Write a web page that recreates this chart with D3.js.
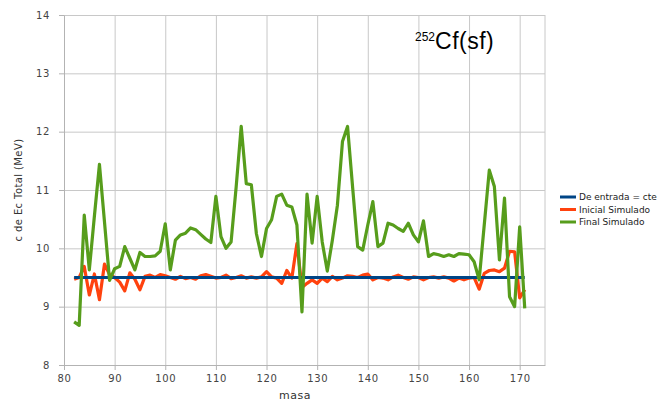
<!DOCTYPE html>
<html>
<head>
<meta charset="utf-8">
<script src="https://cdn.jsdelivr.net/npm/d3@7"></script>
<style>
  body { margin: 0; background: #fff; }
  svg { display: block; font-family: "DejaVu Sans", sans-serif; }
</style>
</head>
<body>
<div id="chart"></div>
<script>
// masses (x) and the three series
const masa = [82, 83, 84, 85, 86, 87, 88, 89, 90, 91, 92, 93, 94, 95, 96, 97, 98, 99,
    100, 101, 102, 103, 104, 105, 106, 107, 108, 109, 110, 111, 112, 113, 114, 115, 116, 117, 118, 119,
    120, 121, 122, 123, 124, 125, 126, 127, 128, 129, 130, 131, 132, 133, 134, 135, 136, 137, 138, 139,
    140, 141, 142, 143, 144, 145, 146, 147, 148, 149, 150, 151, 152, 153, 154, 155, 156, 157, 158, 159,
    160, 161, 162, 163, 164, 165, 166, 167, 168, 169, 170, 171];

const deEntrada = [9.5, 9.5, 9.5, 9.5, 9.5, 9.5, 9.5, 9.5, 9.5, 9.5, 9.5, 9.5, 9.5, 9.5, 9.5, 9.5, 9.5, 9.5,
    9.5, 9.5, 9.5, 9.5, 9.5, 9.5, 9.5, 9.5, 9.5, 9.5, 9.5, 9.5, 9.5, 9.5, 9.5, 9.5, 9.5, 9.5, 9.5, 9.5,
    9.5, 9.5, 9.5, 9.5, 9.5, 9.5, 9.5, 9.5, 9.5, 9.5, 9.5, 9.5, 9.5, 9.5, 9.5, 9.5, 9.5, 9.5, 9.5, 9.5,
    9.5, 9.5, 9.5, 9.5, 9.5, 9.5, 9.5, 9.5, 9.5, 9.5, 9.5, 9.5, 9.5, 9.5, 9.5, 9.5, 9.5, 9.5, 9.5, 9.5,
    9.5, 9.5, 9.5, 9.5, 9.5, 9.5, 9.5, 9.5, 9.5, 9.5, 9.5, 9.5];

const inicialSimulado = [9.47, 9.5, 9.69, 9.2, 9.56, 9.12, 9.73, 9.55, 9.5, 9.42, 9.27, 9.58, 9.47, 9.29, 9.52, 9.54, 9.5, 9.55,
    9.53, 9.5, 9.47, 9.52, 9.48, 9.5, 9.47, 9.53, 9.55, 9.52, 9.49, 9.5, 9.54, 9.48, 9.5, 9.53, 9.49, 9.51, 9.49, 9.51,
    9.6, 9.51, 9.49, 9.4, 9.62, 9.49, 10.08, 9.33, 9.4, 9.46, 9.4, 9.49, 9.43, 9.52, 9.46, 9.49, 9.53, 9.52, 9.5, 9.54,
    9.56, 9.46, 9.5, 9.49, 9.46, 9.51, 9.54, 9.5, 9.47, 9.51, 9.5, 9.46, 9.5, 9.51, 9.49, 9.51, 9.49, 9.44, 9.49, 9.46,
    9.49, 9.5, 9.3, 9.57, 9.62, 9.63, 9.6, 9.66, 9.95, 9.94, 9.15, 9.29];

const finalSimulado = [8.74, 8.68, 10.57, 9.63, 10.55, 11.44, 10.45, 9.45, 9.65, 9.69, 10.03, 9.83, 9.63, 9.93, 9.86, 9.86, 9.87, 9.95,
    10.42, 9.63, 10.14, 10.23, 10.26, 10.35, 10.32, 10.24, 10.16, 10.1, 10.89, 10.2, 10.0, 10.11, 11.05, 12.09, 11.11, 11.09, 10.25, 9.86,
    10.34, 10.49, 10.89, 10.93, 10.74, 10.71, 10.4, 8.91, 10.93, 10.09, 10.89, 10.11, 9.61, 10.14, 10.74, 11.83, 12.09, 11.05, 10.03, 9.97,
    10.4, 10.8, 10.03, 10.09, 10.43, 10.4, 10.34, 10.29, 10.43, 10.23, 10.11, 10.47, 9.86, 9.91, 9.89, 9.86, 9.89, 9.86, 9.91, 9.9,
    9.89, 9.77, 9.46, 10.4, 11.34, 11.06, 9.8, 10.86, 9.17, 9.0, 10.37, 8.97];

const xTicks = [80, 90, 100, 110, 120, 130, 140, 150, 160, 170];
const yTicks = [8, 9, 10, 11, 12, 13, 14];

const seriesNames = ["De entrada = cte", "Inicial Simulado", "Final Simulado"];
const seriesColors = ["#004586", "#ff420e", "#579d1c"];

const W = 667, H = 401;
const margin = { top: 15, right: 122, bottom: 36, left: 64 };
const width = W - margin.left - margin.right;
const height = H - margin.top - margin.bottom;

const svg = d3.select("#chart").append("svg")
    .attr("width", W)
    .attr("height", H);

const g = svg.append("g")
    .attr("transform", `translate(${margin.left},${margin.top})`);

const x = d3.scaleLinear().domain([80, 175]).range([0, width]);
const y = d3.scaleLinear().domain([8, 14]).range([height, 0]);

// grid
g.append("g")
    .attr("class", "grid")
    .call(d3.axisLeft(y).tickValues(yTicks).tickSize(-width).tickFormat(""))
    .call(s => s.select(".domain").remove())
    .selectAll("line").attr("stroke", "#c8c8c8");

g.append("g")
    .attr("class", "grid")
    .attr("transform", `translate(0,${height})`)
    .call(d3.axisBottom(x).tickValues(xTicks).tickSizeInner(-height).tickFormat(""))
    .call(s => s.select(".domain").remove())
    .selectAll("line").attr("stroke", "#c8c8c8");

// right wall edge
g.append("line")
    .attr("x1", x(175)).attr("x2", x(175))
    .attr("y1", 0).attr("y2", height)
    .attr("stroke", "#c8c8c8");

// axes
const xAxis = g.append("g")
    .attr("transform", `translate(0,${height})`)
    .call(d3.axisBottom(x).tickValues(xTicks).tickFormat(d3.format("d"))
        .tickSizeInner(5).tickSizeOuter(0).tickPadding(5));

const yAxis = g.append("g")
    .call(d3.axisLeft(y).tickValues(yTicks).tickFormat(d3.format("d"))
        .tickSizeInner(5).tickSizeOuter(0).tickPadding(9));

[xAxis, yAxis].forEach(a => {
    a.select(".domain").attr("stroke", "#b3b3b3");
    a.selectAll(".tick line").attr("stroke", "#b3b3b3");
    a.selectAll("text")
        .attr("fill", "#444")
        .style("font-size", "10px")
        .style("letter-spacing", "0.6px")
        .style("font-family", "DejaVu Sans, sans-serif");
});

// lines: red first, blue over it, green on top
const line = d3.line()
    .x(d => x(d[0]))
    .y(d => y(d[1]));

const series = [inicialSimulado, deEntrada, finalSimulado];
const order = [1, 0, 2];
series.forEach((vals, i) => {
    g.append("path")
        .datum(masa.map((m, j) => [m, vals[j]]))
        .attr("fill", "none")
        .attr("stroke", seriesColors[order[i]])
        .attr("stroke-width", 3.2)
        .attr("stroke-linejoin", "round")
        .attr("d", line);
});

// axis titles
svg.append("text")
    .attr("x", 295)
    .attr("y", 399)
    .attr("text-anchor", "middle")
    .attr("fill", "#333")
    .style("font-size", "11px")
    .style("letter-spacing", "0.5px")
    .text("masa");

svg.append("text")
    .attr("transform", `translate(22,${margin.top + height / 2}) rotate(-90)`)
    .attr("text-anchor", "middle")
    .attr("fill", "#333")
    .style("font-size", "10px")
    .style("letter-spacing", "0.4px")
    .text("c de Ec  Total (MeV)");

// chart title with superscript
const title = svg.append("text")
    .attr("x", 415)
    .attr("y", 49)
    .attr("fill", "#000")
    .style("font-family", "Liberation Sans, Arial, sans-serif");
title.append("tspan")
    .attr("dy", -8)
    .style("font-size", "12px")
    .text("252");
title.append("tspan")
    .attr("dy", 8)
    .style("font-size", "23px")
    .style("letter-spacing", "0.5px")
    .text("Cf(sf)");

// legend
const legend = svg.append("g")
    .attr("transform", "translate(560,197)");

seriesNames.forEach((name, i) => {
    const row = legend.append("g").attr("transform", `translate(0,${i * 12.5})`);
    row.append("line")
        .attr("x1", 0).attr("x2", 16)
        .attr("stroke", seriesColors[i])
        .attr("stroke-width", 3);
    row.append("text")
        .attr("x", 19)
        .attr("dy", "0.35em")
        .attr("fill", "#222")
        .style("font-size", "9px")
        .text(name);
});
</script>
</body>
</html>
